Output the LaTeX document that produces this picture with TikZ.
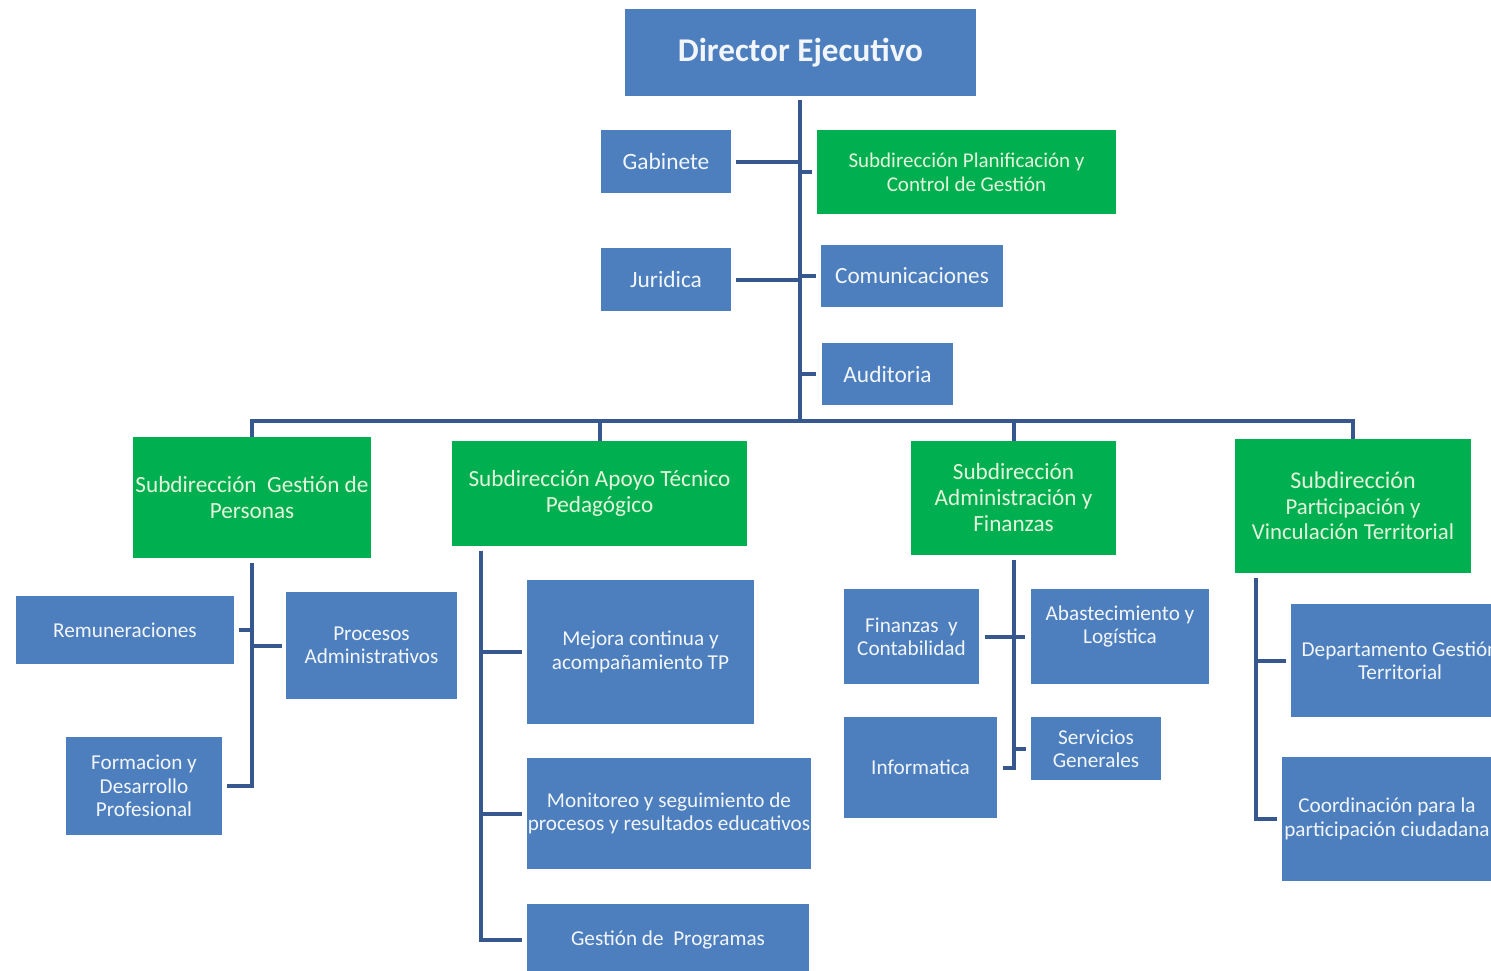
\documentclass[tikz,border=0pt]{standalone}
\usepackage{fontspec}
\setmainfont{Carlito}
\definecolor{bblue}{HTML}{4D7FBE}
\definecolor{ggreen}{HTML}{00B050}
\definecolor{lline}{HTML}{36588E}
\definecolor{gtext}{HTML}{E4F4DC}
\definecolor{wtext}{HTML}{F2F6FB}
\newcommand{\bx}[7]{\node[#1, minimum width={(#4-#2)*0.5pt}, minimum height={(#5-#3)*0.5pt}] (#6) at ({(#2+#4)/2},{(#3+#5)/2}) {#7};}
\tikzset{
  box/.style={fill=bblue, draw=none, inner sep=0pt, align=center, text=wtext, font=\fontsize{10.6}{11.7}\selectfont},
  gbox/.style={box, fill=ggreen, text=gtext, font=\fontsize{11.6}{13}\selectfont},
  topbox/.style={box, font=\fontsize{11.7}{13}\selectfont},
  conn/.style={draw=lline, line width=2pt},
}
\begin{document}
\begin{tikzpicture}[x=0.5pt,y=-0.5pt]
\clip (0,0) rectangle (1491,970);
\fill[white] (0,0) rectangle (1491,970);
% top level
\bx{box, font=\bfseries\fontsize{16.6}{19}\selectfont}{625}{9}{976}{96}{dir}{Director Ejecutivo}
\bx{topbox}{601}{130}{731}{193}{gab}{Gabinete}
\bx{gbox, font=\fontsize{10.5}{12}\selectfont}{817}{130}{1116}{214}{plan}{Subdirección Planificación y\\Control de Gestión}
\bx{topbox}{601}{248}{731}{311}{jur}{Juridica}
\bx{topbox, font=\fontsize{11.6}{13}\selectfont}{821}{245}{1003}{307}{com}{Comunicaciones}
\bx{topbox}{822}{343}{953}{405}{aud}{Auditoria}
\coordinate (t0) at (800,100);
\coordinate (bus) at (800,421);
% second level
\bx{gbox}{133}{437}{371}{558}{sp1}{Subdirección\ \ Gestión de\\Personas}
\bx{gbox}{452}{441}{747}{546}{sp2}{Subdirección Apoyo Técnico\\Pedagógico}
\bx{gbox}{911}{441}{1116}{555}{sp3}{Subdirección\\Administración y\\Finanzas}
\bx{gbox, font=\fontsize{11.4}{12.75}\selectfont}{1235}{439}{1471}{573}{sp4}{{\fontsize{12}{12.75}\selectfont Subdirección}\\Participación y\\Vinculación Territorial}
% personas children
\bx{box}{16}{596}{234}{664}{rem}{Remuneraciones}
\bx{box}{286}{592}{457}{699}{proc}{Procesos\\Administrativos}
\bx{box}{66}{737}{222}{835}{form}{Formacion y\\Desarrollo\\Profesional}
% apoyo children
\coordinate (a0) at (481,551);
\bx{box}{527}{580}{754}{724}{mej}{Mejora continua y\\acompañamiento TP}
\bx{box}{527}{758}{811}{869}{mon}{Monitoreo y seguimiento de\\procesos y resultados educativos}
\bx{box}{527}{904}{809}{976}{gp}{Gestión de\ \ Programas}
% administracion children
\bx{box}{844}{589}{979}{684}{fin}{Finanzas\ \ y\\Contabilidad}
\bx{box}{1031}{589}{1209}{684}{abas}{Abastecimiento y\\Logística\\\mbox{}}
\bx{box}{844}{717}{997}{818}{inf}{Informatica}
\bx{box}{1031}{717}{1161}{780}{serv}{Servicios\\Generales}
% participacion children
\coordinate (p0) at (1256,578);
\bx{box}{1291}{604}{1509}{717}{dep}{Departamento Gestión\\Territorial}
\bx{box}{1282}{757}{1492}{881}{coo}{Coordinación para la\\participación ciudadana}
% connectors top
\draw[conn] (t0) -- (bus);
\draw[conn] ([xshift=2.5pt]gab.east) -- (gab.east -| t0);
\draw[conn] ([xshift=2.5pt]jur.east) -- (jur.east -| t0);
\draw[conn] (plan.west -| t0) -- ([xshift=-2.5pt]plan.west);
\draw[conn] (com.west -| t0) -- ([xshift=-2.5pt]com.west);
\draw[conn] (aud.west -| t0) -- ([xshift=-3pt]aud.west);
% bus
\draw[conn] (sp1.north) -- (sp1.north |- bus) -- (sp4.north |- bus) -- (sp4.north);
\draw[conn] (sp2.north) -- (sp2.north |- bus);
\draw[conn] (sp3.north) -- (sp3.north |- bus);
% personas
\draw[conn] ([yshift=-2.5pt]sp1.south) -- (sp1.south |- form.east) -- ([xshift=2.5pt]form.east);
\draw[conn] ([xshift=2.5pt]rem.east) -- (rem.east -| sp1.south);
\draw[conn] (proc.west -| sp1.south) -- ([xshift=-2pt]proc.west);
% apoyo
\draw[conn] (a0) -- (a0 |- gp.west) -- ([xshift=-2.5pt]gp.west);
\draw[conn] (mej.west -| a0) -- ([xshift=-2.5pt]mej.west);
\draw[conn] (mon.west -| a0) -- ([xshift=-2.5pt]mon.west);
% administracion
\draw[conn] ([yshift=-2.5pt]sp3.south) -- (sp3.south |- inf.east) -- ([xshift=3pt]inf.east);
\draw[conn] ([xshift=3pt]fin.east) -- ([xshift=-3pt]abas.west);
\draw[conn] (serv.west -| sp3.south) -- ([xshift=-2.5pt]serv.west);
% participacion
\draw[conn] (p0) -- (p0 |- coo.west) -- ([xshift=-2.5pt]coo.west);
\draw[conn] (dep.west -| p0) -- ([xshift=-2.5pt]dep.west);
\end{tikzpicture}
\end{document}
